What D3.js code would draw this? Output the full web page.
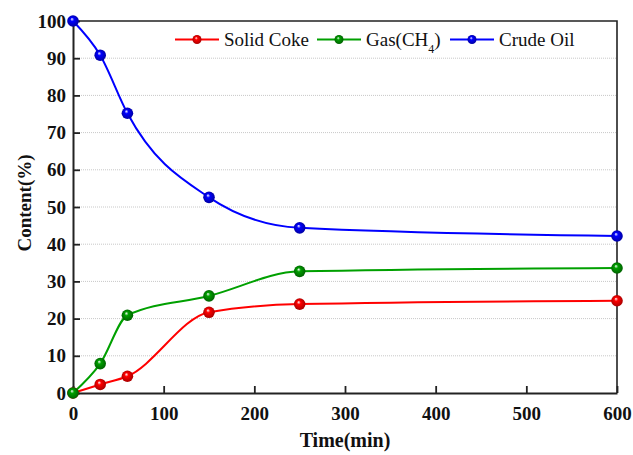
<!DOCTYPE html>
<html lang="en">
<head>
  <meta charset="UTF-8">
  <title>Content vs Time</title>
  <script src="https://d3js.org/d3.v7.min.js"></script>
  <style>
    body { margin: 0; background: #fff; }
  </style>
</head>
<body>
  <div id="chart"></div>
  <script>
    // data
    const times = [0, 30, 60, 150, 250, 600];
    const solidCoke = [0, 2.3, 4.5, 21.7, 23.9, 24.8];
    const gasCH4 = [0, 7.9, 20.9, 26.1, 32.7, 33.6];
    const crudeOil = [100, 90.8, 75.2, 52.6, 44.4, 42.2];
    const xTicks = [0, 100, 200, 300, 400, 500, 600];
    const yTicks = [0, 10, 20, 30, 40, 50, 60, 70, 80, 90, 100];

    const serif = '"Liberation Serif", "Times New Roman", "DejaVu Serif", serif';

    const series = [
      { name: "Solid Coke", values: solidCoke, color: "#ff0000", dark: "#a00000" },
      { name: "Gas(CH4)", values: gasCH4, color: "#00a000", dark: "#005a00" },
      { name: "Crude Oil", values: crudeOil, color: "#0000ff", dark: "#00009a" }
    ];

    const width = 633, height = 455;
    const margin = { top: 21, right: 16, bottom: 62, left: 73 };

    const svg = d3.select("#chart").append("svg")
      .attr("width", width)
      .attr("height", height)
      .attr("font-family", serif);

    const x = d3.scaleLinear().domain([0, 600]).range([margin.left, width - margin.right]);
    const y = d3.scaleLinear().domain([0, 100]).range([height - margin.bottom, margin.top]);

    // sphere-looking markers
    const defs = svg.append("defs");
    series.forEach((s, i) => {
      const g = defs.append("radialGradient").attr("id", "ball" + i)
        .attr("cx", "50%").attr("cy", "50%").attr("r", "55%")
        .attr("fx", "40%").attr("fy", "32%");
      g.append("stop").attr("offset", "0%").attr("stop-color", "#ffffff");
      g.append("stop").attr("offset", "30%").attr("stop-color", s.color);
      g.append("stop").attr("offset", "100%").attr("stop-color", s.dark);
    });

    // dotted gridlines
    svg.append("g")
      .selectAll("line")
      .data(yTicks.filter(d => d > 0 && d < 100))
      .join("line")
      .attr("x1", x(0)).attr("x2", x(600))
      .attr("y1", d => y(d)).attr("y2", d => y(d))
      .attr("stroke", "#c8c8c8")
      .attr("stroke-width", 1)
      .attr("stroke-dasharray", "1,1");

    // axes, ticks pointing inward
    const xAxis = svg.append("g")
      .attr("transform", `translate(0,${y(0)})`)
      .call(d3.axisBottom(x).tickValues(xTicks).tickSizeInner(-7).tickSizeOuter(0).tickPadding(10));
    const yAxis = svg.append("g")
      .attr("transform", `translate(${x(0)},0)`)
      .call(d3.axisLeft(y).tickValues(yTicks).tickSizeInner(-7).tickSizeOuter(0).tickPadding(7));

    [xAxis, yAxis].forEach(a => {
      a.attr("font-family", serif).attr("font-size", 19);
      a.select(".domain").attr("stroke", "#222").attr("stroke-width", 2);
      a.selectAll(".tick line").attr("stroke", "#222").attr("stroke-width", 1.8);
      a.selectAll(".tick text")
        .attr("fill", "#111")
        .attr("font-weight", "bold");
    });
    xAxis.selectAll(".tick text").attr("dy", "0.9em");

    // top and right frame
    svg.append("path")
      .attr("d", `M${x(0)},${y(100)}H${x(600)}V${y(0)}`)
      .attr("fill", "none")
      .attr("stroke", "#222")
      .attr("stroke-width", 1.6);

    // smooth curves
    const line = d3.line()
      .x((d, i) => x(times[i]))
      .y(d => y(d))
      .curve(d3.curveMonotoneX);

    series.forEach((s, i) => {
      svg.append("path")
        .datum(s.values)
        .attr("d", line)
        .attr("fill", "none")
        .attr("stroke", s.color)
        .attr("stroke-width", 2);
    });

    series.forEach((s, i) => {
      svg.append("g")
        .selectAll("circle")
        .data(s.values)
        .join("circle")
        .attr("cx", (d, j) => x(times[j]))
        .attr("cy", d => y(d))
        .attr("r", 5.8)
        .attr("fill", `url(#ball${i})`);
    });

    // legend
    const legendX = [175, 317, 450];
    const legendY = 39.5;
    series.forEach((s, i) => {
      const lg = svg.append("g").attr("transform", `translate(${legendX[i]},${legendY})`);
      lg.append("line").attr("x1", 0).attr("x2", 44).attr("y1", 0).attr("y2", 0)
        .attr("stroke", s.color).attr("stroke-width", 2);
      lg.append("circle").attr("cx", 22).attr("cy", 0).attr("r", 4.5)
        .attr("fill", `url(#ball${i})`);
      const t = lg.append("text")
        .attr("x", 49).attr("y", 0).attr("dy", "0.35em")
        .attr("fill", "#111")
        .attr("font-family", serif)
        .attr("font-size", 19);
      if (s.name === "Gas(CH4)") {
        t.append("tspan").text("Gas(CH");
        t.append("tspan").attr("baseline-shift", "sub").attr("font-size", 12).text("4");
        t.append("tspan").text(")");
      } else {
        t.text(s.name);
      }
    });

    // axis titles
    svg.append("text")
      .attr("x", (x(0) + x(600)) / 2)
      .attr("y", 447)
      .attr("text-anchor", "middle")
      .attr("fill", "#111")
      .attr("font-family", serif)
      .attr("font-size", 20)
      .attr("font-weight", "bold")
      .text("Time(min)");

    svg.append("text")
      .attr("transform", `translate(31,203) rotate(-90)`)
      .attr("text-anchor", "middle")
      .attr("fill", "#111")
      .attr("font-family", serif)
      .attr("font-size", 19)
      .attr("font-weight", "bold")
      .text("Content(%)");
  </script>
</body>
</html>
